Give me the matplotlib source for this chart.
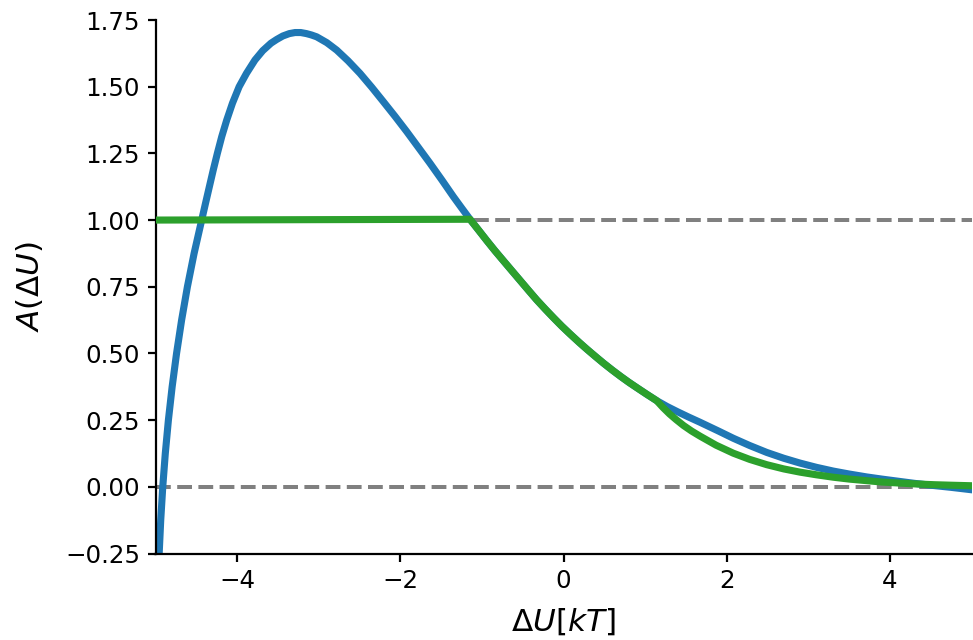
import matplotlib
matplotlib.use("Agg")
import matplotlib.pyplot as plt

# Acceptance curve A(dU) as a function of the energy difference (in kT)
du_blue = [-4.955, -4.936, -4.911, -4.880, -4.842, -4.796, -4.742, -4.680,
           -4.609, -4.527, -4.434, -4.387, -4.340, -4.292, -4.242, -4.188,
           -4.127, -4.057, -3.975, -3.885, -3.781, -3.686, -3.585, -3.515,
           -3.440, -3.360, -3.290, -3.220, -3.150, -3.090, -3.025, -2.900,
           -2.779, -2.640, -2.494, -2.350, -2.208, -2.065, -1.922, -1.780,
           -1.636, -1.490, -1.350, -1.250, -1.146, -1.040, -0.940, -0.840,
           -0.738, -0.630, -0.530, -0.430, -0.329, -0.220, -0.120, -0.020,
           0.080, 0.190, 0.290, 0.390, 0.488, 0.600, 0.700, 0.800, 0.897,
           1.020, 1.142, 1.270, 1.400, 1.530, 1.673, 1.900, 2.081, 2.280,
           2.490, 2.700, 2.898, 3.100, 3.306, 3.500, 3.716, 3.900, 4.124,
           4.300, 4.532, 4.750, 5.000]
a_blue = [-0.250, -0.125, 0.000, 0.125, 0.250, 0.375, 0.500, 0.625,
          0.750, 0.875, 1.000, 1.063, 1.125, 1.188, 1.250, 1.313,
          1.375, 1.438, 1.500, 1.550, 1.600, 1.635, 1.663, 1.677,
          1.690, 1.699, 1.703, 1.703, 1.699, 1.694, 1.687, 1.665,
          1.637, 1.597, 1.550, 1.498, 1.444, 1.389, 1.332, 1.273,
          1.213, 1.150, 1.088, 1.046, 1.003, 0.962, 0.923, 0.885,
          0.848, 0.809, 0.773, 0.737, 0.701, 0.665, 0.633, 0.602,
          0.573, 0.542, 0.515, 0.489, 0.464, 0.437, 0.414, 0.392, 0.372,
          0.347, 0.323, 0.301, 0.281, 0.262, 0.242, 0.209, 0.182, 0.155,
          0.129, 0.107, 0.089, 0.073, 0.059, 0.048, 0.037, 0.029, 0.020,
          0.013, 0.005, -0.002, -0.011]

# Clipped acceptance: flat at 1, then following the curve, then the exponential tail
du_green = [-5.000, -1.146, -1.040, -0.940, -0.840, -0.738, -0.630, -0.530,
            -0.430, -0.329, -0.220, -0.120, -0.020, 0.080, 0.190, 0.290,
            0.390, 0.488, 0.600, 0.700, 0.800, 0.897, 1.020, 1.142, 1.220,
            1.300, 1.380, 1.470, 1.570, 1.673, 1.870, 2.081, 2.280, 2.490,
            2.700, 2.898, 3.100, 3.306, 3.500, 3.716, 3.900, 4.124, 4.300,
            4.532, 4.750, 5.000]
a_green = [1.000, 1.003, 0.962, 0.923, 0.885, 0.848, 0.809, 0.773,
           0.737, 0.701, 0.665, 0.633, 0.602, 0.573, 0.542, 0.515,
           0.489, 0.464, 0.437, 0.414, 0.392, 0.372, 0.347, 0.323, 0.297,
           0.273, 0.252, 0.230, 0.209, 0.190, 0.156, 0.126, 0.103, 0.083,
           0.067, 0.055, 0.045, 0.036, 0.029, 0.023, 0.018, 0.014, 0.011,
           0.008, 0.006, 0.004]

ref_levels = [0.0, 1.0]
x_ticks = [-4, -2, 0, 2, 4]
y_ticks = [-0.25, 0.0, 0.25, 0.5, 0.75, 1.0, 1.25, 1.5, 1.75]

fig = plt.figure(figsize=(973 / 160, 640 / 160), dpi=160)
ax = fig.add_axes([155.5 / 973, (640 - 553.5) / 640, 816 / 973, 533.5 / 640])

for lvl in ref_levels:
    ax.axhline(lvl, color="grey", linestyle="--", linewidth=1.8, zorder=1)

ax.plot(du_blue, a_blue, color="#1f77b4", linewidth=3.2, zorder=2,
        solid_joinstyle="round")
ax.plot(du_green, a_green, color="#2ca02c", linewidth=3.2, zorder=3,
        solid_joinstyle="round")

ax.set_xlim(-5, 5)
ax.set_ylim(-0.25, 1.75)
ax.set_xticks(x_ticks)
ax.set_yticks(y_ticks)
ax.tick_params(labelsize=11, width=1.0, length=3.5)
for side in ("top", "right"):
    ax.spines[side].set_visible(False)
for side in ("left", "bottom"):
    ax.spines[side].set_linewidth(1.0)

ax.set_xlabel(r"$\Delta U[kT]$", fontsize=14, labelpad=6)
ax.set_ylabel(r"$A(\Delta U)$", fontsize=14, labelpad=9)

fig.savefig("out.png", dpi=160)
